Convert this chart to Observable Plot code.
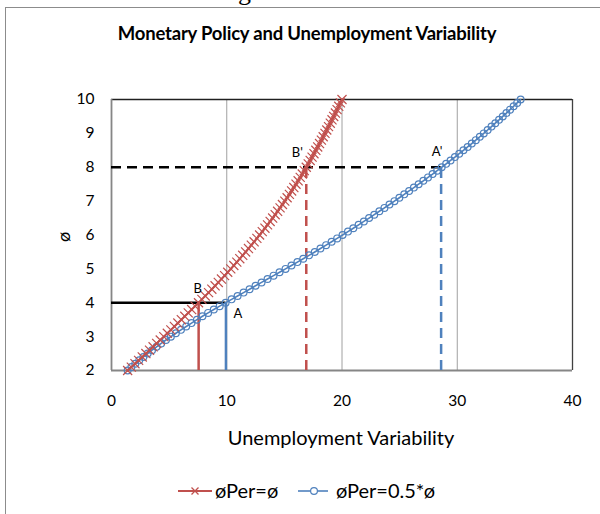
<!DOCTYPE html>
<html><head><meta charset="utf-8">
<script src="https://cdn.jsdelivr.net/npm/d3@7"></script>
<script src="https://cdn.jsdelivr.net/npm/@observablehq/plot@0.6"></script>
<style>
html,body{margin:0;padding:0;width:600px;height:514px;overflow:hidden;background:#fff;font-family:Lato,sans-serif;}
#frame{position:absolute;left:5px;top:7px;width:700px;height:600px;border:1px solid #8c8c8c;box-sizing:border-box;}
#chart{position:absolute;left:0;top:0;}
.t{position:absolute;white-space:nowrap;color:#000;line-height:1;}
</style></head>
<body>
<div class="t" style="left:238px;top:-21px;font-family:'Liberation Serif',serif;font-size:26px;">g</div>
<div id="frame"></div>
<div id="chart"></div>
<div class="t" id="title" style="left:307px;top:24px;transform:translateX(-50%);font-size:18.5px;font-weight:bold;letter-spacing:-0.2px;"></div>
<div class="t" id="xlab" style="left:341px;top:427px;transform:translateX(-50%);font-size:20px;"></div>
<div class="t" id="ylab" style="left:63px;top:237px;transform:translate(-50%,-50%) rotate(-90deg);font-size:18px;"></div>
<div id="legend" style="position:absolute;left:0;top:479px;width:600px;height:24px;"></div>
<script>
// ---- data ----
const titleText = "Monetary Policy and Unemployment Variability";
const xTitle = "Unemployment Variability";
const yTitle = "ø";
const seriesNames = ["øPer=ø", "øPer=0.5*ø"];
const xTicks = [0, 10, 20, 30, 40];
const yTicks = [2, 3, 4, 5, 6, 7, 8, 9, 10];
const gridX = [10, 20, 30];

const phi = [2.0,2.1,2.2,2.3,2.4,2.5,2.6,2.7,2.8,2.9,3.0,3.1,3.2,3.3,3.4,3.5,3.6,3.7,3.8,3.9,
  4.0,4.1,4.2,4.3,4.4,4.5,4.6,4.7,4.8,4.9,5.0,5.1,5.2,5.3,5.4,5.5,5.6,5.7,5.8,5.9,
  6.0,6.1,6.2,6.3,6.4,6.5,6.6,6.7,6.8,6.9,7.0,7.1,7.2,7.3,7.4,7.5,7.6,7.7,7.8,7.9,
  8.0,8.1,8.2,8.3,8.4,8.5,8.6,8.7,8.8,8.9,9.0,9.1,9.2,9.3,9.4,9.5,9.6,9.7,9.8,9.9,10.0];

// unemployment variability, phiPer = phi
const uvFull = [1.4,1.719,2.038,2.354,2.67,2.984,3.298,3.609,3.92,4.229,4.538,4.844,5.15,5.454,5.758,6.059,6.36,6.659,6.958,7.254,
  7.55,7.844,8.134,8.422,8.706,8.988,9.266,9.542,9.814,10.084,10.35,10.614,10.874,11.132,11.386,11.638,11.886,12.132,12.374,12.614,
  12.85,13.083,13.314,13.54,13.764,13.984,14.202,14.415,14.626,14.833,15.038,15.238,15.436,15.63,15.822,16.009,16.194,16.375,16.554,16.728,
  16.9,17.069,17.237,17.403,17.568,17.731,17.893,18.053,18.212,18.369,18.525,18.679,18.832,18.983,19.133,19.281,19.428,19.573,19.717,19.859,20.0];

// unemployment variability, phiPer = 0.5*phi
const uvHalf = [1.4,1.726,2.062,2.41,2.768,3.138,3.518,3.91,4.312,4.726,5.15,5.585,6.028,6.481,6.942,7.413,7.892,8.381,8.878,9.385,
  9.9,10.42,10.94,11.46,11.98,12.5,13.02,13.54,14.06,14.58,15.1,15.618,16.13,16.638,17.14,17.638,18.13,18.618,19.1,19.578,
  20.05,20.518,20.982,21.442,21.898,22.35,22.798,23.242,23.682,24.118,24.55,24.978,25.402,25.822,26.238,26.65,27.058,27.462,27.862,28.258,
  28.65,29.038,29.42,29.798,30.17,30.538,30.9,31.258,31.61,31.958,32.3,32.638,32.972,33.302,33.628,33.95,34.268,34.582,34.892,35.198,35.5];

// guide lines
const lowPhi = 4, highPhi = 8;
const pointB = 7.56, pointA = 9.93, pointB2 = 16.9, pointA2 = 28.6;
const pointLabels = ["B", "A", "B'", "A'"];

// ---- build ----
const red = "#C0504D", blue = "#4F81BD";
const rowsFull = phi.map((p, i) => ({x: uvFull[i], y: p}));
const rowsHalf = phi.map((p, i) => ({x: uvHalf[i], y: p}));
const lbl = (x, y, t, dx, dy) => Plot.text([{x, y, t}], {x: "x", y: "y", text: "t", dx, dy, fontSize: 13, fill: "#000"});

const chart = Plot.plot({
  width: 600, height: 514,
  marginLeft: 111, marginRight: 28, marginTop: 99, marginBottom: 144,
  x: {domain: [0, 40]},
  y: {domain: [2, 10]},
  style: {fontFamily: "Lato, sans-serif", fontSize: "15px", color: "#000", background: "transparent"},
  marks: [
    Plot.ruleX(gridX, {stroke: "#a0a0a0", strokeWidth: 1}),
    Plot.ruleX([40], {stroke: "#404040", strokeWidth: 1.3}),
    Plot.ruleY([10], {stroke: "#202020", strokeWidth: 1.5}),
    Plot.ruleX([0], {stroke: "#868686", strokeWidth: 1.8}),
    Plot.ruleY([2], {stroke: "#868686", strokeWidth: 1.8}),
    Plot.axisX({ticks: xTicks, tickSize: 0, tickPadding: 24, label: null, fontSize: 15.5}),
    Plot.axisY({ticks: yTicks, tickSize: 0, tickPadding: 17, label: null, fontSize: 15.5}),
    // solid guides at phi = 4
    Plot.ruleY([lowPhi], {x1: 0, x2: pointA, stroke: "#000", strokeWidth: 2.5}),
    Plot.ruleX([pointB], {y1: 2, y2: lowPhi, stroke: red, strokeWidth: 2.5}),
    Plot.ruleX([pointA], {y1: 2, y2: lowPhi, stroke: blue, strokeWidth: 2.5}),
    // dashed guides at phi = 8
    Plot.ruleY([highPhi], {x1: 0, x2: pointA2, stroke: "#000", strokeWidth: 2.5, strokeDasharray: "10,6"}),
    Plot.ruleX([pointB2], {y1: 2, y2: highPhi, stroke: red, strokeWidth: 2.5, strokeDasharray: "10,6"}),
    Plot.ruleX([pointA2], {y1: 2, y2: highPhi, stroke: blue, strokeWidth: 2.5, strokeDasharray: "10,6"}),
    // series
    Plot.line(rowsHalf, {x: "x", y: "y", stroke: blue, strokeWidth: 1.6}),
    Plot.dot(rowsHalf, {x: "x", y: "y", r: 3.4, stroke: blue, strokeWidth: 1.2, fill: "none"}),
    Plot.line(rowsFull, {x: "x", y: "y", stroke: red, strokeWidth: 2}),
    Plot.dot(rowsFull, {x: "x", y: "y", symbol: "times", r: 4.2, stroke: red, strokeWidth: 1.2}),
    // point labels
    lbl(pointB, lowPhi, pointLabels[0], -1, -14),
    lbl(pointA, lowPhi, pointLabels[1], 12, 11),
    lbl(pointB2, highPhi, pointLabels[2], -9, -14),
    lbl(pointA2, highPhi, pointLabels[3], -4, -15)
  ]
});
document.getElementById("chart").appendChild(chart);
document.getElementById("title").textContent = titleText;
document.getElementById("xlab").textContent = xTitle;
document.getElementById("ylab").textContent = yTitle;

// legend
const ns = "http://www.w3.org/2000/svg";
const lg = document.createElementNS(ns, "svg");
lg.setAttribute("width", 600); lg.setAttribute("height", 24);
lg.innerHTML =
  `<line x1="178" x2="212" y1="12" y2="12" stroke="${red}" stroke-width="2"/>` +
  `<path d="M191.5,8.5L198.5,15.5M198.5,8.5L191.5,15.5" stroke="${red}" stroke-width="1.3"/>` +
  `<text x="215" y="12" dy="0.35em" font-family="Lato, sans-serif" font-size="20px" fill="#000">${seriesNames[0]}</text>` +
  `<line x1="298" x2="328" y1="12" y2="12" stroke="${blue}" stroke-width="1.6"/>` +
  `<circle cx="314" cy="12" r="3.4" fill="#fff" stroke="${blue}" stroke-width="1.2"/>` +
  `<text x="336" y="12" dy="0.35em" font-family="Lato, sans-serif" font-size="20px" fill="#000">${seriesNames[1]}</text>`;
document.getElementById("legend").appendChild(lg);
</script>
</body></html>
